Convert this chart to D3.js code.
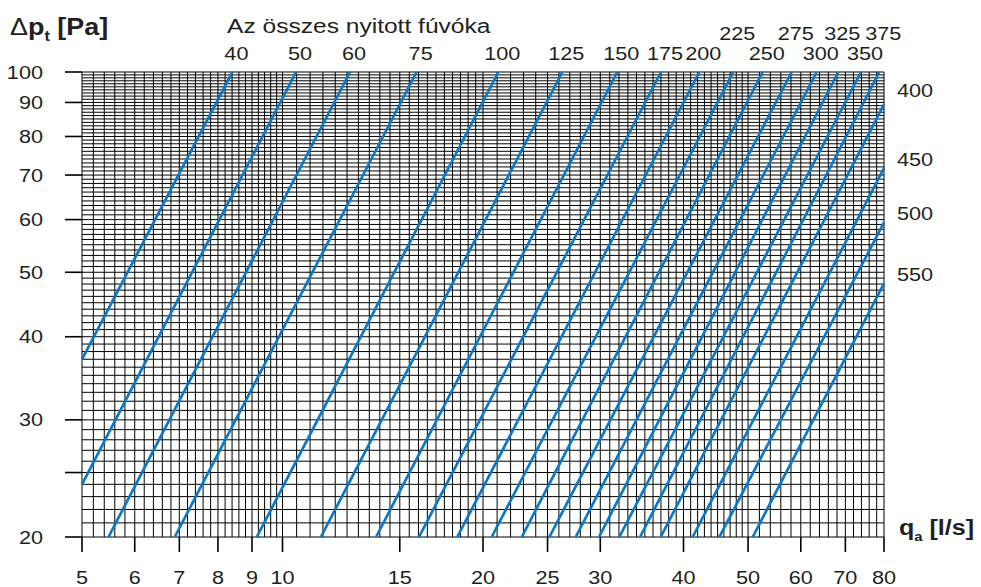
<!DOCTYPE html>
<head>
  <meta charset="utf-8">
  <script src="https://d3js.org/d3.v7.min.js"></script>
  <style>
    body { margin:0; padding:0; background:#fff; }
    text { font-family: "Liberation Sans", Arial, sans-serif; fill:#231f20; }
  </style>
</head>
<body>
  <svg id="chart" width="981" height="587"></svg>
  <script>
    // nozzle counts and the two end points [q l/s, dp Pa] of each line
    var nozzles   = [40, 50, 60, 75, 100, 125, 150, 175, 200, 225, 250, 275, 300, 325, 350, 375, 400, 450, 500, 550];
    var lineStart = [[5,37.0],[5,24.0],[5.48,20],[6.89,20],[9.15,20],[11.42,20],[13.82,20],[16.03,20],[18.30,20],
                     [20.61,20],[22.87,20],[25.16,20],[27.56,20],[29.87,20],[32.04,20],[34.42,20],
                     [36.97,20],[41.29,20],[45.28,20],[50.82,20]];
    var lineEnd   = [[8.41,100],[10.48,100],[12.63,100],[15.90,100],[21.09,100],[26.31,100],[31.82,100],[37.01,100],
                     [42.25,100],[47.52,100],[52.60,100],[58.15,100],[63.40,100],[68.31,100],[73.89,100],[78.71,100],
                     [80,89.4],[80,71.7],[80,59.4],[80,48.1]];
    var upperRow  = [225, 275, 325, 375];

    var xTicks = [5, 6, 7, 8, 9, 10, 15, 20, 25, 30, 40, 50, 60, 70, 80];
    var yTicks = [20, 25, 30, 40, 50, 60, 70, 80, 90, 100];
    var yLabels = [20, 30, 40, 50, 60, 70, 80, 90, 100];
    // grid spacing: [from, to, step]
    var xGridSteps = [[5, 10, 0.2], [10, 20, 0.5], [20, 50, 1], [50, 80, 2]];
    var yGridSteps = [[20, 100, 1]];

    var SX = 1.14; // the original lettering is a bit wider than Arial
    var svg = d3.select("#chart");
    var x = d3.scaleLog().domain([5, 80]).range([82, 884]);
    var y = d3.scaleLog().domain([20, 100]).range([537, 72]);

    function steps(list) {
      var out = [];
      list.forEach(function(s) {
        d3.range(s[0], s[1] + 1e-9, s[2]).forEach(function(v) { out.push(+v.toFixed(3)); });
      });
      return Array.from(new Set(out));
    }

    // grid
    var grid = svg.append("g").attr("stroke", "#000").attr("stroke-width", 1);
    grid.selectAll(".v").data(steps(xGridSteps)).enter().append("line")
      .attr("x1", d => x(d)).attr("x2", d => x(d)).attr("y1", y(100)).attr("y2", y(20));
    grid.selectAll(".h").data(steps(yGridSteps)).enter().append("line")
      .attr("x1", x(5)).attr("x2", x(80)).attr("y1", d => y(d)).attr("y2", d => y(d));

    // ticks
    var ticks = svg.append("g").attr("stroke", "#000").attr("stroke-width", 1.6);
    ticks.selectAll(".yt").data(yTicks).enter().append("line")
      .attr("x1", 65).attr("x2", x(5)).attr("y1", d => y(d)).attr("y2", d => y(d));
    ticks.selectAll(".xt").data(xTicks).enter().append("line")
      .attr("x1", d => x(d)).attr("x2", d => x(d)).attr("y1", y(20)).attr("y2", 552);

    function label(txt, px, py, anchor, size, sx) {
      return svg.append("text")
        .attr("transform", "translate(" + px + "," + py + ") scale(" + (sx || SX) + ",1)")
        .attr("text-anchor", anchor || "start")
        .attr("font-size", size || 19)
        .text(txt);
    }

    yLabels.forEach(function(v) { label(v, 43, y(v) + 6.5, "end"); });
    xTicks.forEach(function(v) { label(v, x(v), 584, "middle"); });

    // pressure lines
    var line = d3.line().x(d => x(d[0])).y(d => y(d[1]));
    svg.append("g").selectAll("path").data(nozzles).enter().append("path")
      .attr("d", (d, i) => line([lineStart[i], lineEnd[i]]))
      .attr("fill", "none").attr("stroke", "#0a78c6").attr("stroke-width", 2.7);

    nozzles.forEach(function(n, i) {
      var e = lineEnd[i];
      if (e[1] >= 100) {
        label(n, x(e[0]) + 4, upperRow.indexOf(n) >= 0 ? 40 : 60, "middle");
      } else {
        label(n, 897, y(e[1]) - (i === 16 ? 7 : 2), "start");
      }
    });

    label("Az összes nyitott fúvóka", 227, 33, "start", 21, 1.17);

    var yt = svg.append("text").attr("transform", "translate(10,35) scale(1.17,1)")
      .attr("font-size", 23).attr("font-weight", "bold");
    yt.append("tspan").attr("font-weight", "normal").text("Δ");
    yt.append("tspan").text("p");
    yt.append("tspan").attr("font-size", 14).attr("dy", 6).text("t");
    yt.append("tspan").attr("dy", -6).text(" [Pa]");

    var xt = svg.append("text").attr("transform", "translate(899,535) scale(" + SX + ",1)")
      .attr("font-size", 22).attr("font-weight", "bold");
    xt.append("tspan").text("q");
    xt.append("tspan").attr("font-size", 13).attr("dy", 6).text("a");
    xt.append("tspan").attr("dy", -6).text(" [l/s]");
  </script>
</body>
